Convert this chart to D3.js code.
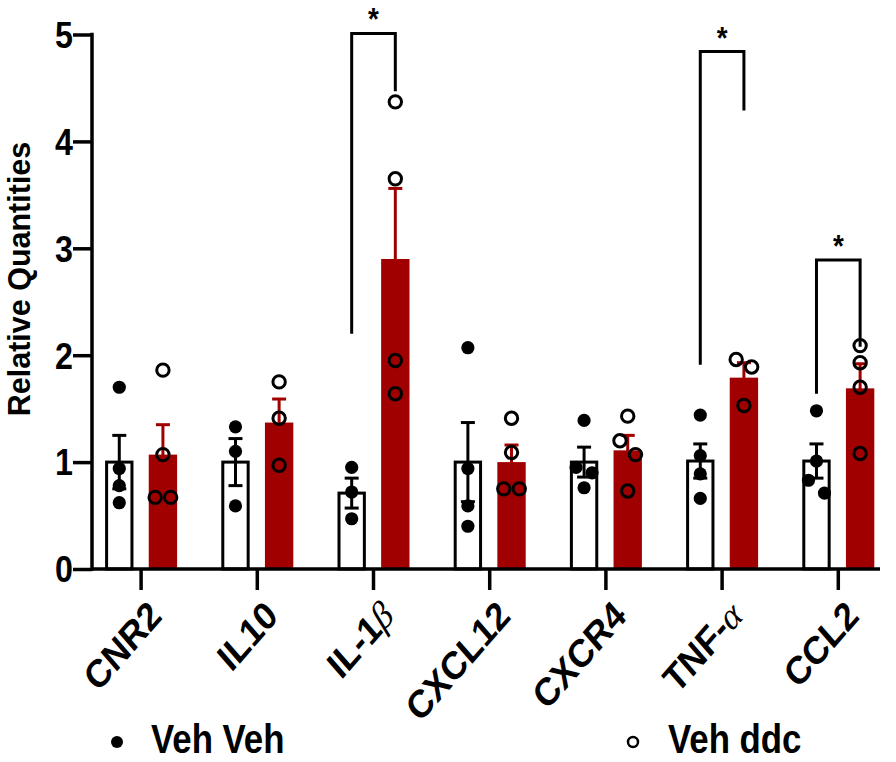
<!DOCTYPE html>
<html><head><meta charset="utf-8">
<script src="https://cdn.jsdelivr.net/npm/d3@7"></script>
<style>body{margin:0;background:#fff}</style>
</head><body>
<svg id="chart" width="896" height="762"></svg>
<script>
const categories = ["CNR2","IL10","IL-1β","CXCL12","CXCR4","TNF-α","CCL2"];
const seriesNames = ["Veh Veh","Veh ddc"];
const vehVehMean = [1.00,1.00,0.71,1.00,1.00,1.01,1.01];
const vehVehSem  = [0.25,0.22,0.14,0.37,0.14,0.16,0.16];
const vehDdcMean = [1.07,1.37,2.90,1.00,1.11,1.79,1.69];
const vehDdcSem  = [0.28,0.22,0.66,0.16,0.14,0.14,0.23];
const vehVehPoints = [[1.70,0.94,0.78,0.62],[1.33,1.10,0.59],[0.95,0.72,0.47],[2.07,0.94,0.59,0.40],[1.39,0.95,0.90,0.76],[1.44,1.06,0.89,0.66],[1.48,1.01,0.83,0.71]];
const vehDdcPoints = [[1.86,1.07,0.67,0.67],[1.75,1.41,0.97],[4.37,3.65,1.95,1.64],[1.41,1.09,0.75,0.75],[1.43,1.20,1.07,0.73],[1.96,1.89,1.53],[2.09,1.93,1.70,1.08]];
const yTicks = [0,1,2,3,4,5];
const yLabel = "Relative Quantities";
const sigCategories = ["IL-1β","TNF-α","CCL2"];
const sigTop = [5.01,4.84,2.89];
const sigLeftEnd = [2.20,1.91,1.64];
const sigRightEnd = [4.47,4.29,2.08];
const sigLabels = ["*","*","*"];

const RED = "#a00000";
const FONT = "'Liberation Sans', Arial, sans-serif";
const SQ = 0.87; // horizontal squeeze of the original figure's text
const svg = d3.select("#chart");

const axisX = 92, axisY = 569;
const y = d3.scaleLinear().domain([0,5]).range([axisY, 34.5]);
const x = d3.scaleBand().domain(categories).range([83, 896.4]).paddingInner(0).paddingOuter(0);
const xs = d3.scaleBand().domain(seriesNames).range([-36, 36]).paddingInner(0.35);
const cx = c => x(c) + x.bandwidth()/2;
const bw = xs.bandwidth();

const groups = [
  {name: seriesNames[0], mean: vehVehMean, sem: vehVehSem, pts: vehVehPoints},
  {name: seriesNames[1], mean: vehDdcMean, sem: vehDdcSem, pts: vehDdcPoints}
];

// bars
groups.forEach((g, gi) => {
  const data = categories.map((c,i)=>({c, v:g.mean[i]}));
  const gg = svg.append("g");
  if (gi === 0) {
    gg.selectAll("rect").data(data).join("rect")
      .attr("x", d => cx(d.c) + xs(g.name) + 1.5)
      .attr("y", d => y(d.v))
      .attr("width", bw - 3)
      .attr("height", d => axisY - y(d.v))
      .attr("fill", "#fff").attr("stroke", "#000").attr("stroke-width", 3);
  } else {
    gg.selectAll("rect").data(data).join("rect")
      .attr("x", d => cx(d.c) + xs(g.name))
      .attr("y", d => y(d.v))
      .attr("width", bw)
      .attr("height", d => axisY - y(d.v))
      .attr("fill", RED);
  }
});

// error bars
groups.forEach((g, gi) => {
  const col = gi === 0 ? "#000" : RED;
  categories.forEach((c,i) => {
    const mx = cx(c) + xs(g.name) + bw/2;
    const top = y(g.mean[i] + g.sem[i]);
    const bot = y(g.mean[i] - g.sem[i]);
    const eg = svg.append("g").attr("stroke", col).attr("stroke-width", 3);
    eg.append("line").attr("x1", mx).attr("x2", mx).attr("y1", top).attr("y2", bot);
    eg.append("line").attr("x1", mx-7).attr("x2", mx+7).attr("y1", top).attr("y2", top);
    eg.append("line").attr("x1", mx-7).attr("x2", mx+7).attr("y1", bot).attr("y2", bot);
  });
});

// points with simple overlap spreading
function spread(values, threshold, spacing) {
  const sorted = values.map((v,i)=>({v,i})).sort((a,b)=>b.v-a.v);
  const out = new Array(values.length).fill(0);
  let cluster = [];
  const flush = () => { const n = cluster.length; cluster.forEach((p,k)=> out[p.i] = (k-(n-1)/2)*spacing); cluster = []; };
  sorted.forEach(p => {
    if (cluster.length && Math.abs(y(cluster[cluster.length-1].v) - y(p.v)) >= threshold) flush();
    cluster.push(p);
  });
  flush();
  return out;
}
groups.forEach((g, gi) => {
  categories.forEach((c,i) => {
    const mx = cx(c) + xs(g.name) + bw/2;
    const vals = g.pts[i];
    const offs = gi === 0 ? spread(vals, 13, 16) : spread(vals, 15, 15.5);
    vals.forEach((v,k) => {
      const circ = svg.append("circle").attr("cx", mx + offs[k]).attr("cy", y(v));
      if (gi === 0) circ.attr("r", 6.6).attr("fill", "#000");
      else circ.attr("r", 6.2).attr("fill", "none").attr("stroke", "#000").attr("stroke-width", 3);
    });
  });
});

// axes
const yAxis = d3.axisLeft(y).tickValues(yTicks).tickSize(19).tickFormat("");
const yg = svg.append("g").attr("transform", `translate(${axisX},0)`).call(yAxis);
yg.select(".domain").remove();
yg.selectAll(".tick line").attr("stroke", "#000").attr("stroke-width", 3.5);
yTicks.forEach(t => {
  svg.append("text").attr("transform", `translate(${axisX-19},${y(t)}) scale(${SQ},1)`)
    .attr("text-anchor", "end").attr("dy", "0.36em")
    .attr("font-family", FONT).attr("font-weight", "bold").attr("font-size", 37).attr("fill", "#000")
    .text(d3.format("d")(t));
});
svg.append("line").attr("x1", axisX).attr("x2", axisX).attr("y1", y(5)-1.75).attr("y2", axisY+1.75).attr("stroke","#000").attr("stroke-width",3.5);
svg.append("line").attr("x1", axisX).attr("x2", 880).attr("y1", axisY).attr("y2", axisY).attr("stroke","#000").attr("stroke-width",3.5);

const xAxis = d3.axisBottom(x).tickSize(21).tickFormat("");
const xg = svg.append("g").attr("transform", `translate(0,${axisY})`).call(xAxis);
xg.select(".domain").remove();
xg.selectAll(".tick line").attr("stroke", "#000").attr("stroke-width", 3.5);

// category labels
categories.forEach(c => {
  const t = svg.append("text")
    .attr("transform", `translate(${cx(c)+5},${598}) scale(${SQ},1) rotate(-45)`)
    .attr("text-anchor", "end").attr("dy", "0.72em")
    .attr("font-family", FONT).attr("font-weight", "bold").attr("font-size", 39).attr("fill", "#000");
  const m = c.match(/^(.*?)([αβ])$/);
  if (m) {
    t.append("tspan").text(m[1]);
    t.append("tspan").text(m[2]).attr("font-family", "'Liberation Serif', 'Times New Roman', serif")
      .attr("font-style", "italic").attr("font-weight", "normal");
  } else t.text(c);
});

// y label
svg.append("text").attr("transform", `translate(30,279) rotate(-90)`)
  .attr("text-anchor", "middle").attr("font-family", FONT).attr("font-weight", "bold")
  .attr("font-size", 30.5).text(yLabel);

// significance brackets
sigCategories.forEach((c,i) => {
  const lx = cx(c) + xs(seriesNames[0]) + bw/2;
  const rx = cx(c) + xs(seriesNames[1]) + bw/2;
  svg.append("path")
    .attr("d", `M${lx},${y(sigLeftEnd[i])}V${y(sigTop[i])}H${rx}V${y(sigRightEnd[i])}`)
    .attr("fill", "none").attr("stroke", "#000").attr("stroke-width", 3);
  svg.append("text").attr("transform", `translate(${(lx+rx)/2},${y(sigTop[i]) - 3}) scale(${SQ},1)`)
    .attr("text-anchor", "middle").attr("font-family", FONT).attr("font-weight", "bold")
    .attr("font-size", 32).text(sigLabels[i]);
});

// legend
const legend = svg.append("g");
legend.append("circle").attr("cx", 117).attr("cy", 742).attr("r", 6).attr("fill", "#000");
legend.append("text").attr("transform", `translate(151,753) scale(${SQ},1)`).attr("font-family", FONT).attr("font-weight", "bold").attr("font-size", 40).text(seriesNames[0]);
legend.append("circle").attr("cx", 633).attr("cy", 742).attr("r", 5).attr("fill", "none").attr("stroke", "#000").attr("stroke-width", 2.5);
legend.append("text").attr("transform", `translate(668,753) scale(${SQ},1)`).attr("font-family", FONT).attr("font-weight", "bold").attr("font-size", 40).text(seriesNames[1]);
</script>
</body></html>
